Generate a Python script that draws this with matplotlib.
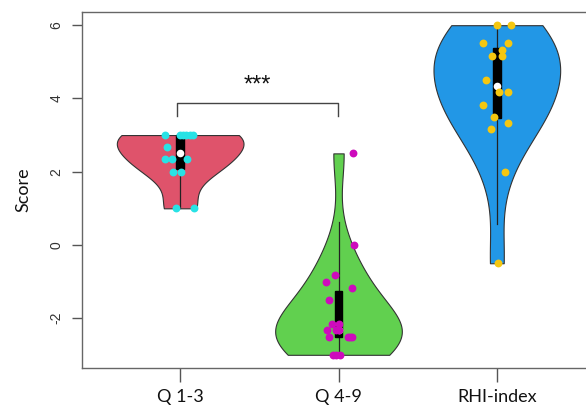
import numpy as np
import matplotlib
matplotlib.use("Agg")
import matplotlib.pyplot as plt

# ---------------- data ----------------
categories = ["Q 1-3", "Q 4-9", "RHI-index"]

q13_values = [3, 3, 3, 3, 3, 3, 2.667, 2.333, 2.333, 2.333, 2.0, 2.0, 1.0, 1.0]
q13_jitter = [-0.095, -0.004, 0.017, 0.038, 0.059, 0.084, -0.084, -0.095, -0.052, 0.042,
              -0.046, 0.004, -0.027, 0.090]

q49_values = [2.5, 0.0, -0.833, -1.0, -1.167, -1.5, -2.167, -2.167, -2.333, -2.333, -2.333,
              -2.5, -2.5, -2.5, -2.5, -3.0, -3.0, -3.0]
q49_jitter = [0.091, 0.095, -0.021, -0.078, 0.088, -0.057, -0.042, 0.006, -0.073, -0.015, 0.004,
              -0.057, 0.063, 0.085, 0.075, -0.032, 0.011, -0.015]

rhi_values = [6.0, 6.0, 5.5, 5.5, 5.333, 5.167, 5.167, 4.5, 4.167, 4.167, 3.833, 3.5,
              3.333, 3.167, 2.0, -0.5]
rhi_jitter = [0.0, 0.088, -0.088, 0.069, 0.035, -0.032, 0.035, -0.068, 0.016, 0.069,
              -0.085, -0.021, 0.073, -0.038, 0.052, 0.006]

yticks = [-2, 0, 2, 4, 6]
signif_text = "***"

violin_colors = ["#DF536B", "#61D04F", "#2297E6"]
point_colors = ["#28E2E5", "#CD0BBC", "#F5C710"]

groups = [q13_values, q49_values, rhi_values]
jitters = [q13_jitter, q49_jitter, rhi_jitter]

# ---------------- figure ----------------
fig = plt.figure(figsize=(5.86, 4.08), dpi=100)
ax = fig.add_axes([82 / 586, 40 / 408, (595 - 82) / 586, (368 - 12) / 408])

def kde_profile(data, n=200):
    d = np.asarray(data, float)
    h = d.std(ddof=1) * (4.0 / (3.0 * len(d))) ** 0.2
    grid = np.linspace(d.min(), d.max(), n)
    dens = np.exp(-0.5 * ((grid[:, None] - d[None, :]) / h) ** 2).sum(axis=1)
    return grid, dens / dens.max() * 0.4

for i, (vals, jit) in enumerate(zip(groups, jitters)):
    pos = i + 1
    d = np.asarray(vals, float)
    grid, half = kde_profile(d)
    ax.fill_betweenx(grid, pos - half, pos + half, facecolor=violin_colors[i],
                     edgecolor="#333333", linewidth=0.8, zorder=2)
    q1, med, q3 = np.quantile(d, [0.25, 0.5, 0.75])
    iqr = q3 - q1
    lo = max(q1 - 1.5 * iqr, d.min())
    hi = min(q3 + 1.5 * iqr, d.max())
    ax.plot([pos, pos], [lo, hi], color="#222222", linewidth=0.9, zorder=3)
    ax.add_patch(plt.Rectangle((pos - 0.025, q1), 0.05, q3 - q1, facecolor="black",
                               edgecolor="black", zorder=4))
    ax.scatter([pos], [med], s=30, color="white", zorder=5, linewidths=0)
    ax.scatter(pos + np.asarray(jit), d, s=32, color=point_colors[i], zorder=6, linewidths=0)

# significance bracket
ax.plot([0.983, 0.983, 1.994, 1.994], [3.52, 3.88, 3.88, 3.52], color="#444444",
        linewidth=1.0, zorder=3)
ax.text(1.49, 4.34, signif_text, ha="center", va="center", fontsize=17,
        family="Liberation Sans", color="#111111")

ax.set_xlim(0.38, 3.62)
ax.set_ylim(-3.36, 6.36)
ax.set_xticks([1, 2, 3])
ax.set_xticklabels(categories, fontsize=13, family="Lato", color="#111111")
ax.set_yticks(yticks)
ax.set_yticklabels([str(t) for t in yticks], rotation=90, va="center", fontsize=10,
                   family="Liberation Sans", color="#333333")
ax.tick_params(axis="x", length=10, width=1.0, color="#555555", pad=5)
ax.tick_params(axis="y", length=7.5, width=1.0, color="#555555", pad=6)
ax.set_ylabel("Score", fontsize=13, family="Lato", labelpad=13, color="#111111")
for s in ["left", "bottom", "top", "right"]:
    ax.spines[s].set_color("#666666")
    ax.spines[s].set_linewidth(1.0)

fig.savefig("out.png", dpi=100)
